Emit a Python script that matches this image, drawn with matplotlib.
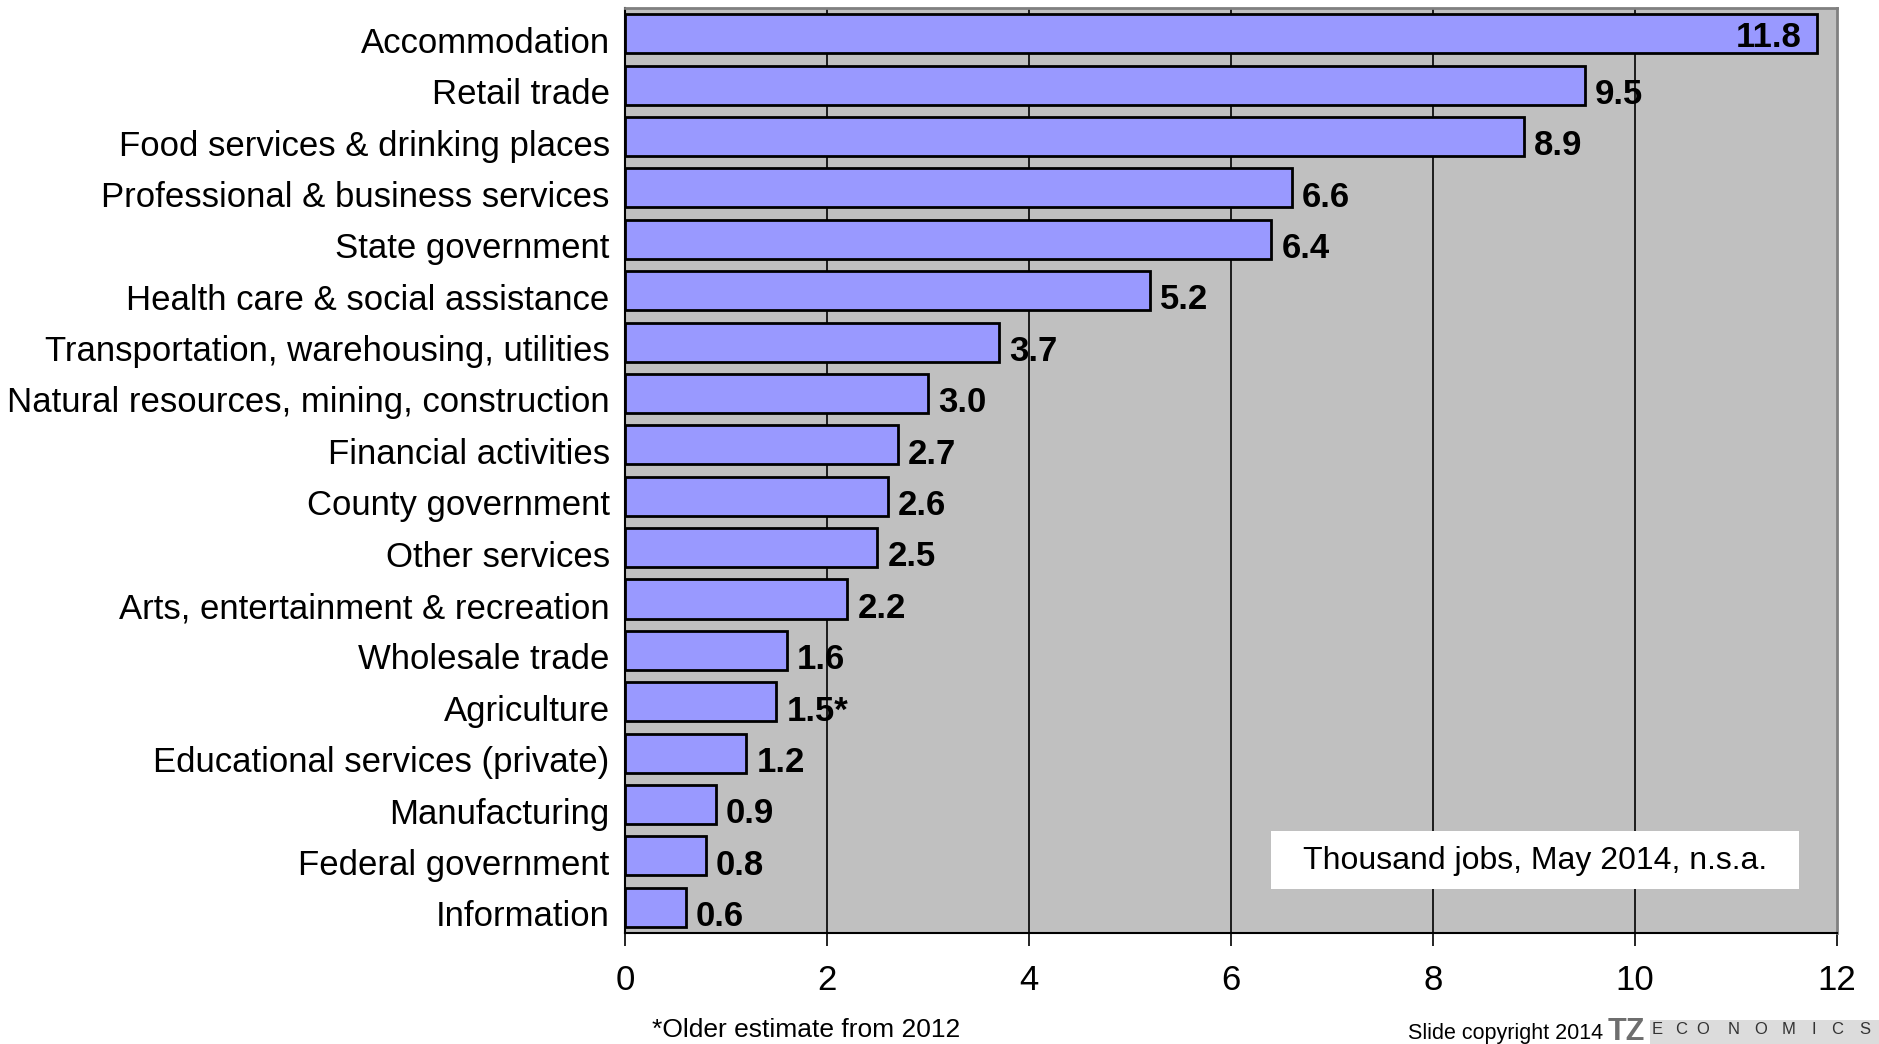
import matplotlib.pyplot as plt
from matplotlib.patches import Rectangle
from matplotlib.transforms import ScaledTranslation
import numpy as np

plt.rcParams['font.family'] = ['Liberation Sans', 'DejaVu Sans']

# Employment by industry, thousand jobs
sectores = [
    "Accommodation",
    "Retail trade",
    "Food services & drinking places",
    "Professional & business services",
    "State government",
    "Health care & social assistance",
    "Transportation, warehousing, utilities",
    "Natural resources, mining, construction",
    "Financial activities",
    "County government",
    "Other services",
    "Arts, entertainment & recreation",
    "Wholesale trade",
    "Agriculture",
    "Educational services (private)",
    "Manufacturing",
    "Federal government",
    "Information",
]
empleos = [11.8, 9.5, 8.9, 6.6, 6.4, 5.2, 3.7, 3.0, 2.7, 2.6, 2.5, 2.2, 1.6, 1.5, 1.2, 0.9, 0.8, 0.6]
notas = ["", "", "", "", "", "", "", "", "", "", "", "", "", "*", "", "", "", ""]
ticks_x = [0, 2, 4, 6, 8, 10, 12]

W, H = 1879, 1044
fig = plt.figure(figsize=(W / 100, H / 100), dpi=100)
ax = fig.add_axes([0.3326, 0.1063, 0.9777 - 0.3326, 0.9923 - 0.1063])
ax.set_facecolor('#c0c0c0')

y = np.arange(len(sectores))
ax.barh(y, empleos, height=0.76, color='#9999ff', edgecolor='black', linewidth=2, zorder=3)

# lineas verticales de la cuadricula
for t in ticks_x[1:-1]:
    ax.axvline(t, color='black', linewidth=1.2, zorder=1)

ax.set_xlim(0, 12)
ax.set_ylim(len(sectores) - 0.5, -0.5)
ax.set_xticks(ticks_x)
ax.set_xticklabels([str(t) for t in ticks_x], fontsize=25)
ax.set_yticks(y)
ax.set_yticklabels(sectores, fontsize=25)
ax.tick_params(axis='y', length=0, pad=11)
ax.tick_params(axis='x', length=9, width=1.2, pad=13, direction='out')

# las etiquetas van un poco por debajo del centro de cada barra
bajar = ScaledTranslation(0, -6 / 100, fig.dpi_scale_trans)
for lab in ax.get_yticklabels():
    lab.set_transform(lab.get_transform() + bajar)

for lado in ['top', 'right']:
    ax.spines[lado].set_color('#808080')
    ax.spines[lado].set_linewidth(2)
for lado in ['left', 'bottom']:
    ax.spines[lado].set_color('black')
    ax.spines[lado].set_linewidth(1.5)

# etiquetas de valor
for i, (v, n) in enumerate(zip(empleos, notas)):
    texto = f"{v:.1f}{n}"
    if v > 11:
        ax.text(v - 0.15, i + 0.08, texto, ha='right', va='center', fontsize=25, fontweight='bold', zorder=4)
    else:
        ax.text(v + 0.1, i + 0.18, texto, ha='left', va='center', fontsize=25, fontweight='bold', zorder=4)

# recuadro con unidades
fig.patches.append(Rectangle((1271 / W, 1 - 889 / H), 528 / W, 58 / H,
                             transform=fig.transFigure, facecolor='white', edgecolor='none', zorder=5))
fig.text(1535 / W, 1 - 861 / H, "Thousand jobs, May 2014, n.s.a.", ha='center', va='center',
         fontsize=23, zorder=6)

fig.text(652 / W, 1 - 1030 / H, "*Older estimate from 2012", ha='left', va='center', fontsize=19)
fig.text(1408 / W, 1 - 1033 / H, "Slide copyright 2014", ha='left', va='center', fontsize=15.5)

# logo
fig.text(1608 / W, 1 - 1032 / H, "TZ", ha='left', va='center', fontsize=22, fontweight='bold',
         color='#6e6e6e')
fig.patches.append(Rectangle((1650 / W, 0), (W - 1650) / W, 24 / H,
                             transform=fig.transFigure, facecolor='#dcdcdc', edgecolor='none'))
letras = ["E", "C", "O", "N", "O", "M", "I", "C", "S"]
pos_letras = [1657, 1681, 1703, 1734, 1761, 1789, 1814, 1837, 1865]
for l, px in zip(letras, pos_letras):
    fig.text(px / W, 1 - 1030 / H, l, ha='center', va='center', fontsize=12, color='#333333')

fig.savefig('out.png', dpi=100)
